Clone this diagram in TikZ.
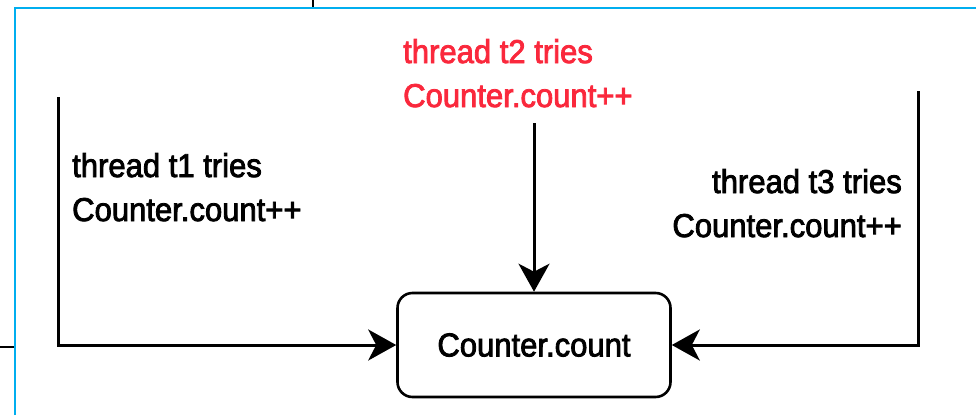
\documentclass[tikz,border=0pt]{standalone}
\usepackage{fontspec}
\setmainfont{Liberation Sans}[FakeStretch=0.94,FakeBold=2.5]
\usetikzlibrary{arrows.meta}
\definecolor{framecyan}{RGB}{0,174,239}
\definecolor{alertred}{RGB}{250,40,60}
\tikzset{
  lbl/.style={inner sep=0pt, font=\fontsize{33}{44}\selectfont},
  conn/.style={line width=3pt, -{Stealth[length=28pt,width=31pt,inset=8pt]}},
  cntbox/.style={draw, line width=2.6pt, rounded corners=15pt, minimum width=273pt,
                 minimum height=104pt, inner sep=0pt, font=\fontsize{33}{44}\selectfont},
}
\begin{document}
\begin{tikzpicture}[x=1pt,y=-1pt]
  \useasboundingbox (0,0) rectangle (976,415);
  % frame edges
  \draw[framecyan, line width=2.2pt] (15,415) -- (15,8) -- (976,8);
  \draw[black, line width=2pt] (313,0) -- (313,7);
  \draw[black, line width=2pt] (0,347) -- (14,347);

  % shared counter
  \node[cntbox] (cnt) at (534,345) {Counter.count};

  % thread labels (anchored on the baseline of their last line)
  \node[lbl, anchor=base west, align=left] (t1) at (72,221) {thread t1 tries\\Counter.count++};
  \node[lbl, anchor=base west, align=left, text=alertred] (t2) at (403,107) {thread t2 tries\\Counter.count++};
  \node[lbl, anchor=base east, align=right] (t3) at (902,237) {thread t3 tries\\Counter.count++};

  % connector start points
  \coordinate (s1) at (58,97);
  \coordinate (s2) at (534,123);
  \coordinate (s3) at (918,91);

  \draw[conn] (s1) |- (cnt.west);
  \draw[conn] (s2) -- (cnt.north);
  \draw[conn] (s3) |- (cnt.east);
\end{tikzpicture}
\end{document}
